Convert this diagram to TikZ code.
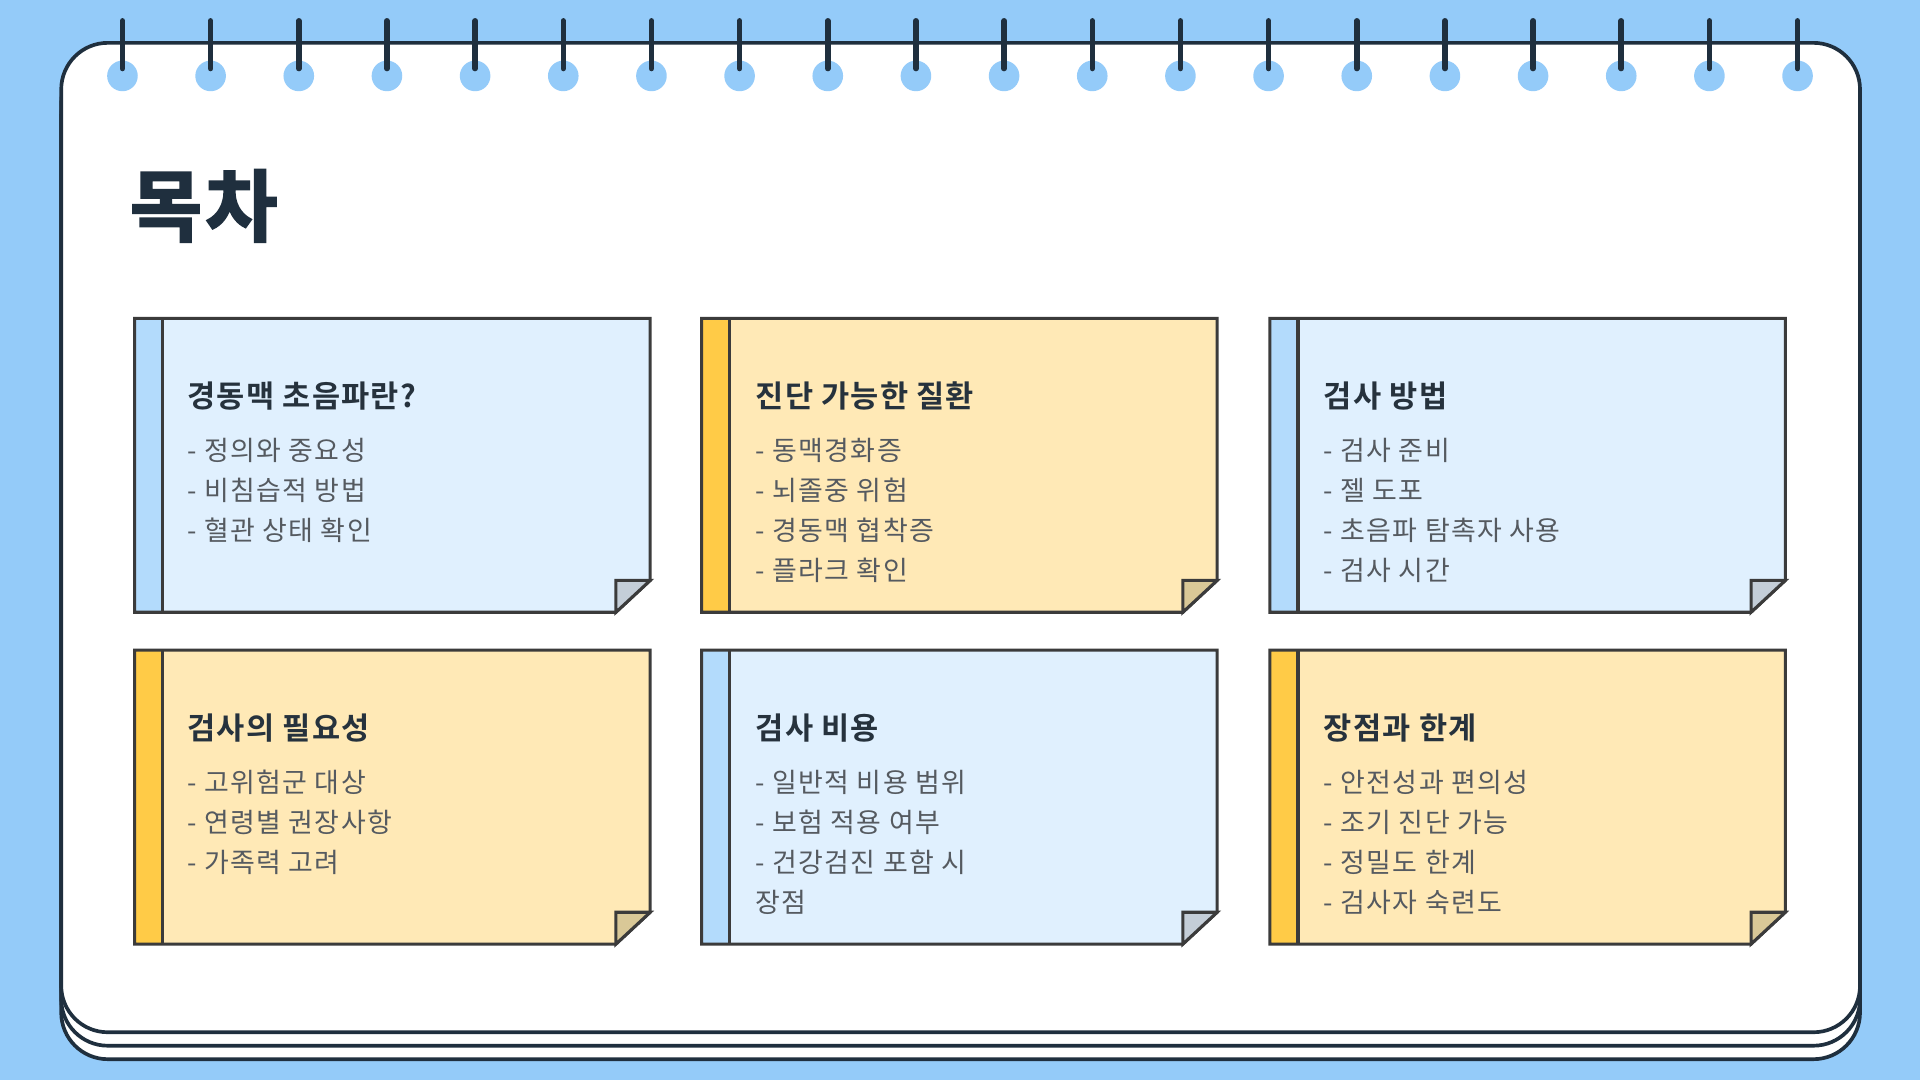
\documentclass[tikz,border=0pt]{standalone}
\usepackage{fontspec}
\newfontfamily\kr{Noto Sans CJK KR}[LetterSpace=5]
\newfontfamily\krbold{Noto Sans CJK KR}[UprightFont=* Bold, LetterSpace=4]
\newfontfamily\krheavy{Noto Sans CJK KR}[UprightFont=* Bold, FakeBold=2.5, LetterSpace=4]
\definecolor{bgblue}{HTML}{94CBF9}
\definecolor{navy}{HTML}{1F2F3E}
\definecolor{cardblue}{HTML}{E0F0FE}
\definecolor{stripeblue}{HTML}{B3DBFC}
\definecolor{foldblue}{HTML}{C4CED8}
\definecolor{cardyellow}{HTML}{FFE9B6}
\definecolor{stripeyellow}{HTML}{FFCB47}
\definecolor{foldyellow}{HTML}{D9C897}
\definecolor{cardborder}{HTML}{3B3B3B}
\definecolor{titletext}{HTML}{26323D}
\definecolor{itemtext}{HTML}{555A60}
\tikzset{
  cardline/.style={draw=cardborder, line width=2.5pt, line join=miter},
  pagebox/.style={fill=white, draw=navy, line width=3pt, rounded corners=38pt},
  ringhole/.style={fill=bgblue, draw=none},
  ringwire/.style={draw=navy, line width=4.5pt, line cap=round},
  bigtitle/.style={inner sep=0pt, text=navy, font=\krheavy\fontsize{64}{72}\selectfont},
  cardtitle/.style={inner sep=0pt, text=titletext, font=\krbold\fontsize{25}{29}\selectfont},
  carditem/.style={inner sep=0pt, text=itemtext, font=\kr\fontsize{22}{26}\selectfont},
}
\newcommand{\postit}[5]{%
  \fill[#3] (#1,#2) -- ++(421,0) -- ++(0,214) -- ++(-28,26) -- ++(-393,0) -- cycle;
  \fill[#4] (#1,#2) rectangle ++(23,240);
  \draw[cardline] (#1,#2) -- ++(421,0) -- ++(0,214) -- ++(-28,26) -- ++(-393,0) -- cycle;
  \draw[cardline] (#1+23,#2) -- ++(0,240);
  \filldraw[cardline, fill=#5] (#1+393,#2+214) -- ++(28,0) -- ++(-28,26) -- cycle;
}
\begin{document}
\begin{tikzpicture}[x=1pt,y=-1pt]
\useasboundingbox (0,0) rectangle (1568,882);
\fill[bgblue] (0,0) rectangle (1568,882);
% stacked pages
\draw[pagebox] (50,57) rectangle (1519,865);
\draw[pagebox] (50,46) rectangle (1519,854);
\draw[pagebox] (50,35) rectangle (1519,843);
% spiral rings
\foreach \i in {0,...,19}{
  \fill[ringhole] (100+72*\i,62) ellipse [x radius=12.5, y radius=12.5];
  \draw[ringwire] (100+72*\i,17) -- (100+72*\i,56);
}
% title
\node[bigtitle, anchor=base west] (title) at (106,192) {목차};
% cards
\postit{110}{260}{cardblue}{stripeblue}{foldblue}
\postit{573}{260}{cardyellow}{stripeyellow}{foldyellow}
\postit{1037}{260}{cardblue}{stripeblue}{foldblue}
\postit{110}{531}{cardyellow}{stripeyellow}{foldyellow}
\postit{573}{531}{cardblue}{stripeblue}{foldblue}
\postit{1037}{531}{cardyellow}{stripeyellow}{foldyellow}
% card 1
\node[cardtitle, anchor=base west] (c1t) at (153,333) {경동맥 초음파란?};
\node[carditem, anchor=base west] (c1a) at (153,376) {- 정의와 중요성};
\node[carditem, anchor=base west] (c1b) at (153,408.6) {- 비침습적 방법};
\node[carditem, anchor=base west] (c1c) at (153,441.2) {- 혈관 상태 확인};
% card 2
\node[cardtitle, anchor=base west] (c2t) at (617,333) {진단 가능한 질환};
\node[carditem, anchor=base west] (c2a) at (617,376) {- 동맥경화증};
\node[carditem, anchor=base west] (c2b) at (617,408.6) {- 뇌졸중 위험};
\node[carditem, anchor=base west] (c2c) at (617,441.2) {- 경동맥 협착증};
\node[carditem, anchor=base west] (c2d) at (617,473.8) {- 플라크 확인};
% card 3
\node[cardtitle, anchor=base west] (c3t) at (1081,333) {검사 방법};
\node[carditem, anchor=base west] (c3a) at (1081,376) {- 검사 준비};
\node[carditem, anchor=base west] (c3b) at (1081,408.6) {- 젤 도포};
\node[carditem, anchor=base west] (c3c) at (1081,441.2) {- 초음파 탐촉자 사용};
\node[carditem, anchor=base west] (c3d) at (1081,473.8) {- 검사 시간};
% card 4
\node[cardtitle, anchor=base west] (c4t) at (153,604) {검사의 필요성};
\node[carditem, anchor=base west] (c4a) at (153,647) {- 고위험군 대상};
\node[carditem, anchor=base west] (c4b) at (153,679.6) {- 연령별 권장사항};
\node[carditem, anchor=base west] (c4c) at (153,712.2) {- 가족력 고려};
% card 5
\node[cardtitle, anchor=base west] (c5t) at (617,604) {검사 비용};
\node[carditem, anchor=base west] (c5a) at (617,647) {- 일반적 비용 범위};
\node[carditem, anchor=base west] (c5b) at (617,679.6) {- 보험 적용 여부};
\node[carditem, anchor=base west] (c5c) at (617,712.2) {- 건강검진 포함 시};
\node[carditem, anchor=base west] (c5d) at (617,744.8) {장점};
% card 6
\node[cardtitle, anchor=base west] (c6t) at (1081,604) {장점과 한계};
\node[carditem, anchor=base west] (c6a) at (1081,647) {- 안전성과 편의성};
\node[carditem, anchor=base west] (c6b) at (1081,679.6) {- 조기 진단 가능};
\node[carditem, anchor=base west] (c6c) at (1081,712.2) {- 정밀도 한계};
\node[carditem, anchor=base west] (c6d) at (1081,744.8) {- 검사자 숙련도};
\end{tikzpicture}
\end{document}
